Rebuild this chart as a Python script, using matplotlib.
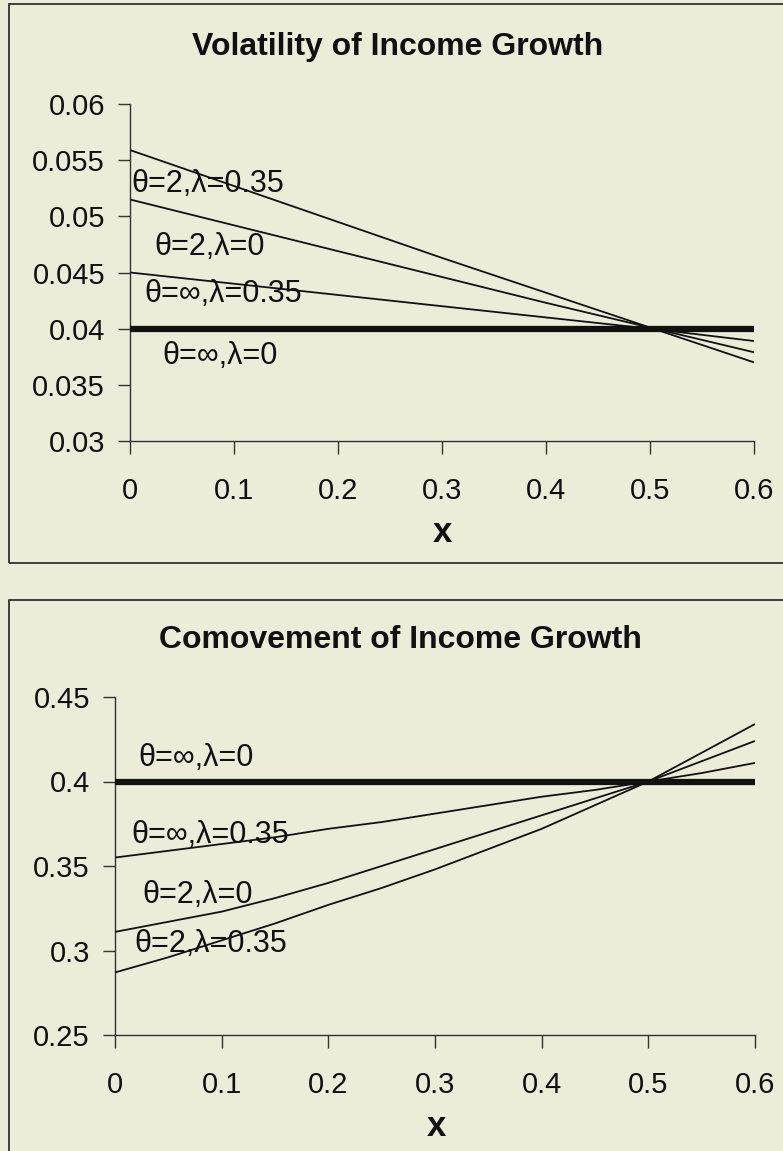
import numpy as np
import matplotlib.pyplot as plt
from matplotlib.patches import Rectangle

####################################
#               Data               #
####################################

# income growth volatility, x = 0 .. 0.6 step 0.1
x_vol = [0.0, 0.1, 0.2, 0.3, 0.4, 0.5, 0.6]
vol_t2_l035 = [0.0559, 0.0527, 0.0495, 0.0463, 0.0432, 0.0401, 0.0370]
vol_t2_l0 = [0.0515, 0.0492, 0.0469, 0.0446, 0.0423, 0.0401, 0.0379]
vol_tinf_l035 = [0.0450, 0.0440, 0.0430, 0.0420, 0.0410, 0.0400, 0.0389]
vol_tinf_l0 = [0.04, 0.04, 0.04, 0.04, 0.04, 0.04, 0.04]

# income growth comovement, x = 0 .. 0.6 step 0.05
x_com = [0.0, 0.05, 0.1, 0.15, 0.2, 0.25, 0.3, 0.35, 0.4, 0.45, 0.5, 0.55, 0.6]
com_t2_l035 = [0.287, 0.296, 0.306, 0.316, 0.327, 0.337, 0.348, 0.360, 0.372, 0.386, 0.400, 0.417, 0.434]
com_t2_l0 = [0.311, 0.317, 0.323, 0.331, 0.340, 0.350, 0.360, 0.370, 0.380, 0.390, 0.400, 0.412, 0.424]
com_tinf_l035 = [0.355, 0.359, 0.363, 0.367, 0.372, 0.376, 0.381, 0.386, 0.391, 0.395, 0.400, 0.405, 0.411]
com_tinf_l0 = [0.4] * 13

x_ticks = [0, 0.1, 0.2, 0.3, 0.4, 0.5, 0.6]
x_ticklabels = ["0", "0.1", "0.2", "0.3", "0.4", "0.5", "0.6"]
vol_ticks = [0.03, 0.035, 0.04, 0.045, 0.05, 0.055, 0.06]
vol_ticklabels = ["0.03", "0.035", "0.04", "0.045", "0.05", "0.055", "0.06"]
com_ticks = [0.25, 0.3, 0.35, 0.4, 0.45]
com_ticklabels = ["0.25", "0.3", "0.35", "0.4", "0.45"]

lab_t2_l035 = "θ=2,λ=0.35"
lab_t2_l0 = "θ=2,λ=0"
lab_tinf_l035 = "θ=∞,λ=0.35"
lab_tinf_l0 = "θ=∞,λ=0"

####################################
#             Settings             #
####################################

bg = "#EBEDD8"
ink = "#111111"
fam = ["Liberation Sans", "DejaVu Sans"]
plt.rcParams['font.family'] = fam
W, H = 783, 1151


def px(x, y):
    return x / W, 1 - y / H


def style_axes(ax, yticks, yticklabels, ylim):
    ax.set_facecolor("none")
    ax.set_xlim(0, 0.6)
    ax.set_ylim(*ylim)
    for s in ("top", "right"):
        ax.spines[s].set_visible(False)
    for s in ("left", "bottom"):
        ax.spines[s].set_color("#333333")
        ax.spines[s].set_linewidth(1.0)
    ax.set_xticks(x_ticks, x_ticklabels)
    ax.set_yticks(yticks, yticklabels)
    ax.tick_params(axis="x", direction="out", length=9, width=1, pad=17,
                   labelsize=21, colors="#333333", labelcolor=ink)
    ax.tick_params(axis="y", direction="out", length=9, width=1, pad=9,
                   labelsize=21, colors="#333333", labelcolor=ink)


def draw_series(ax, x, series, labels, label_pos):
    for ys, lw in series:
        ax.plot(x, ys, color=ink, lw=lw, solid_capstyle="butt", zorder=3)
    for text, (lx, ly) in zip(labels, label_pos):
        ax.text(lx, ly, text, fontsize=22, color=ink, ha="left", va="center",
                family=fam, zorder=4)


####################################
#               Main               #
####################################

fig = plt.figure(figsize=(W / 100, H / 100), dpi=100, facecolor=bg)

# panel frames
for (x0, y0, x1, y1) in [(9, 4, 800, 563), (9, 600, 800, 1170)]:
    fx0, fy1 = px(x0, y0)
    fx1, fy0 = px(x1, y1)
    fig.add_artist(Rectangle((fx0, fy0), fx1 - fx0, fy1 - fy0,
                             transform=fig.transFigure, fill=False,
                             edgecolor="#222222", lw=1.2))

# volatility panel
l, t = px(130, 104)
r, b = px(754, 441)
ax1 = fig.add_axes([l, b, r - l, t - b])
style_axes(ax1, vol_ticks, vol_ticklabels, (0.03, 0.06))
draw_series(ax1, x_vol,
            [(vol_tinf_l0, 4.5), (vol_t2_l035, 1.3), (vol_t2_l0, 1.3), (vol_tinf_l035, 1.3)],
            [lab_t2_l035, lab_t2_l0, lab_tinf_l035, lab_tinf_l0],
            [(0.001, 0.0529), (0.023, 0.0473), (0.014, 0.0431), (0.031, 0.0376)])
fig.text(*px(398, 47), "Volatility of Income Growth", ha="center", va="center",
         fontsize=23, fontweight="bold", color=ink)
fig.text(*px(442, 532), "x", ha="center", va="center", fontsize=25,
         fontweight="bold", color=ink)

# comovement panel
l, t = px(115, 697)
r, b = px(755, 1035)
ax2 = fig.add_axes([l, b, r - l, t - b])
style_axes(ax2, com_ticks, com_ticklabels, (0.25, 0.45))
draw_series(ax2, x_com,
            [(com_tinf_l0, 4.5), (com_t2_l035, 1.3), (com_t2_l0, 1.3), (com_tinf_l035, 1.3)],
            [lab_tinf_l0, lab_tinf_l035, lab_t2_l0, lab_t2_l035],
            [(0.022, 0.414), (0.015, 0.3685), (0.026, 0.333), (0.018, 0.304)])
fig.text(*px(400, 640), "Comovement of Income Growth", ha="center", va="center",
         fontsize=23, fontweight="bold", color=ink)
fig.text(*px(436, 1126), "x", ha="center", va="center", fontsize=25,
         fontweight="bold", color=ink)

fig.savefig("out.png", dpi=100, facecolor=bg)
